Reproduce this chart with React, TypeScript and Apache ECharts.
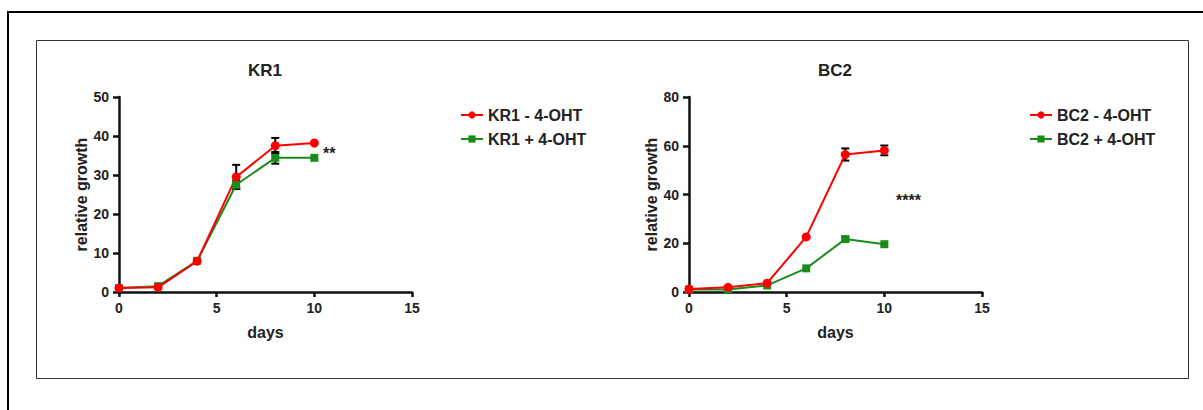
import React, { useEffect, useRef } from "react";
import * as echarts from "echarts";

const days = [0, 2, 4, 6, 8, 10];
const kr1Minus = [1.0, 1.2, 7.9, 29.5, 37.5, 38.2];
const kr1Plus = [1.0, 1.5, 8.0, 27.5, 34.4, 34.4];
const bc2Minus = [1.2, 1.9, 3.6, 22.6, 56.4, 58.1];
const bc2Plus = [1.0, 1.0, 2.7, 9.7, 21.7, 19.6];
const kr1MinusErr = [0, 0, 0, 3.1, 2.0, 0];
const kr1PlusErr = [0, 0, 0, 1.0, 1.5, 0];
const bc2MinusErr = [0, 0, 0, 0, 2.5, 2.0];
const bc2PlusErr = [0, 0, 0, 0, 1.0, 0];
const titles = ["KR1", "BC2"];
const legendNames = [
  ["KR1 - 4-OHT", "KR1 + 4-OHT"],
  ["BC2 - 4-OHT", "BC2 + 4-OHT"],
];
const yMax = [50, 80];
const yStep = [10, 20];
const stars = ["**", "****"];

const RED = "#ff0000";
const GREEN = "#1a8c1a";
const FONT = "'Liberation Sans', Arial, sans-serif";

export default function App() {
  const ref = useRef<HTMLDivElement>(null);
  useEffect(() => {
    if (!ref.current) return;
    const chart = echarts.init(ref.current, null, { renderer: "svg" });
    const gridLeft = [119, 689];
    const pairs = (ys: number[]) => days.map((d, i) => [d, ys[i]]);
    const errPairs = (ys: number[], es: number[]) =>
      days.map((d, i) => [d, ys[i], es[i]]).filter((p) => p[2] > 0);

    const errSeries = (idx: number, ys: number[], es: number[]) => ({
      type: "custom",
      xAxisIndex: idx,
      yAxisIndex: idx,
      z: 1,
      silent: true,
      data: errPairs(ys, es),
      renderItem: (params: any, api: any) => {
        const x = api.value(0);
        const y = api.value(1);
        const e = api.value(2);
        const top = api.coord([x, y + e]);
        const bot = api.coord([x, y - e]);
        const cw = 4;
        const st = { stroke: "#000", lineWidth: 2 };
        return {
          type: "group",
          children: [
            { type: "line", shape: { x1: top[0], y1: top[1], x2: bot[0], y2: bot[1] }, style: st },
            { type: "line", shape: { x1: top[0] - cw, y1: top[1], x2: top[0] + cw, y2: top[1] }, style: st },
            { type: "line", shape: { x1: bot[0] - cw, y1: bot[1], x2: bot[0] + cw, y2: bot[1] }, style: st },
          ],
        };
      },
    });

    const lineSeries = (idx: number, name: string, ys: number[], color: string, symbol: string, size: number) => ({
      type: "line",
      name,
      xAxisIndex: idx,
      yAxisIndex: idx,
      data: pairs(ys),
      symbol,
      symbolSize: size,
      showAllSymbol: true,
      z: 3,
      lineStyle: { color, width: 2 },
      itemStyle: { color },
    });

    const axisLabel = { color: "#222", fontWeight: "bold", fontSize: 14, fontFamily: FONT };
    const nameStyle = { color: "#222", fontWeight: "bold", fontSize: 16, fontFamily: FONT };

    const option: any = {
      animation: false,
      backgroundColor: "#fff",
      title: titles.map((t, i) => ({
        text: t,
        left: gridLeft[i] + 141,
        top: 57,
        textAlign: "center",
        textStyle: { fontWeight: "bold", fontSize: 17, color: "#222", fontFamily: FONT },
      })),
      grid: gridLeft.map((l) => ({ left: l, top: 97, width: 293, height: 195 })),
      xAxis: [0, 1].map((i) => ({
        type: "value",
        gridIndex: i,
        min: 0,
        max: 15,
        interval: 5,
        name: "days",
        nameLocation: "middle",
        nameGap: 32,
        nameTextStyle: nameStyle,
        axisLine: { show: true, lineStyle: { color: "#111", width: 2.5 } },
        axisTick: { show: true, length: 5, lineStyle: { color: "#111", width: 2.5 } },
        axisLabel: { ...axisLabel, margin: 9 },
        splitLine: { show: false },
      })),
      yAxis: [0, 1].map((i) => ({
        type: "value",
        gridIndex: i,
        min: 0,
        max: yMax[i],
        interval: yStep[i],
        name: "relative growth",
        nameLocation: "middle",
        nameGap: 30,
        nameTextStyle: nameStyle,
        axisLine: { show: true, lineStyle: { color: "#111", width: 2.5 } },
        axisTick: { show: true, length: 6, lineStyle: { color: "#111", width: 2.5 } },
        axisLabel: { ...axisLabel, margin: 10 },
        splitLine: { show: false },
      })),
      legend: [0, 1].map((i) => ({
        data: legendNames[i],
        orient: "vertical",
        left: i === 0 ? 455 : 1024,
        top: 102,
        itemWidth: 22,
        itemHeight: 9,
        itemGap: 8,
        selectedMode: false,
        textStyle: { color: "#222", fontWeight: "bold", fontSize: 16, fontFamily: FONT },
      })),
      series: [
        errSeries(0, kr1Minus, kr1MinusErr),
        errSeries(0, kr1Plus, kr1PlusErr),
        errSeries(1, bc2Minus, bc2MinusErr),
        errSeries(1, bc2Plus, bc2PlusErr),
        lineSeries(0, legendNames[0][1], kr1Plus, GREEN, "rect", 8),
        lineSeries(0, legendNames[0][0], kr1Minus, RED, "circle", 9),
        lineSeries(1, legendNames[1][1], bc2Plus, GREEN, "rect", 8),
        lineSeries(1, legendNames[1][0], bc2Minus, RED, "circle", 9),
      ],
      graphic: [
        { type: "rect", shape: { x: 8, y: 12, width: 1300, height: 500 }, style: { fill: "none", stroke: "#000", lineWidth: 2 }, silent: true },
        { type: "rect", shape: { x: 36.5, y: 40.5, width: 1152, height: 338 }, style: { fill: "none", stroke: "#333", lineWidth: 1 }, silent: true },
        { type: "text", x: 323, y: 145, style: { text: stars[0], fill: "#222", font: `bold 16px ${FONT}` } },
        { type: "text", x: 896, y: 192, style: { text: stars[1], fill: "#222", font: `bold 16px ${FONT}` } },
      ],
    };
    chart.setOption(option);
    return () => chart.dispose();
  }, []);
  return (
    <div
      ref={ref}
      style={{ position: "fixed", left: 0, top: 0, width: 1203, height: 410 }}
    />
  );
}
